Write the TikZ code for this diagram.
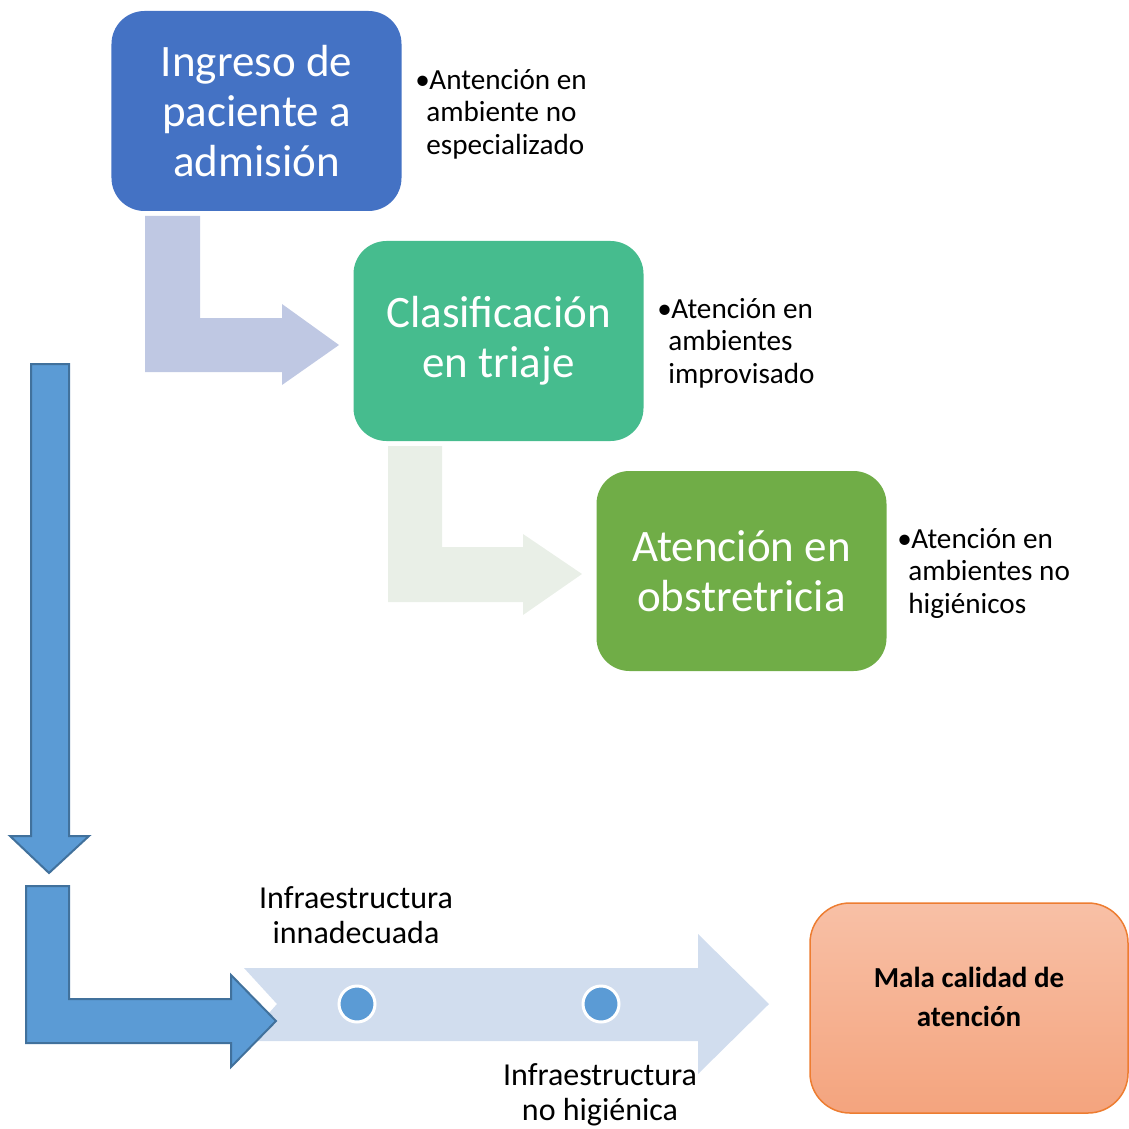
\documentclass[tikz,border=0pt]{standalone}
\usepackage{fontspec}
\setmainfont{Carlito}
\usepackage{tikz}
\usetikzlibrary{calc}
\definecolor{Ingreso}{RGB}{68, 114, 196}
\definecolor{Triaje}{RGB}{70, 188, 142}
\definecolor{Obstetricia}{RGB}{112, 173, 71}
\definecolor{Flecha1}{RGB}{191, 200, 227}
\definecolor{Flecha2}{RGB}{233, 239, 231}
\definecolor{Azul}{RGB}{91, 155, 213}
\definecolor{AzulBorde}{RGB}{65, 113, 156}
\definecolor{Banda}{RGB}{209, 221, 238}
\definecolor{MalaTop}{RGB}{248, 192, 166}
\definecolor{MalaBot}{RGB}{244, 164, 126}
\definecolor{MalaBorde}{RGB}{237, 125, 49}

\newcommand{\vineta}{\makebox[2.8mm][l]{•}}
\newcommand{\sangria}{\hspace*{2.2mm}}

\tikzset{
  caja/.style={rounded corners=6.6mm, minimum width=58mm, minimum height=40mm,
    text=white, align=center, inner sep=0pt, font=\fontsize{25.6}{28.4}\selectfont},
  nota/.style={align=left, anchor=west, inner sep=0pt, font=\fontsize{16.6}{18.5}\selectfont},
  etiqueta/.style={align=center, inner sep=0pt, font=\fontsize{18.2}{19.9}\selectfont},
  punto/.style={circle, fill=Azul, draw=white, line width=0.6mm, minimum size=7.2mm, inner sep=0pt},
}

\begin{document}
\begin{tikzpicture}[x=0.2mm, y=-0.2mm]
    %%Background
    \useasboundingbox (0,0) rectangle (1129,1129);

    %% Bent arrows between the steps
    \draw[draw=none, fill=Flecha1] (145,216) to (200,216) to (200,318) to (282,318)
    to (282,304) to (339,345) to (282,385) to (282,372) to (145,372) -- cycle;
    \draw[draw=none, fill=Flecha2] (388,446) to (442,446) to (442,547) to (523,547)
    to (523,534) to (582,574) to (523,615) to (523,602) to (388,602) -- cycle;

    %% Steps
    \node[caja, fill=Ingreso] (ingreso) at (256.5,111) {Ingreso de\\paciente a\\admisión};
    \node[caja, fill=Triaje] (triaje) at (498.5,341) {Clasificación\\en triaje};
    \node[caja, fill=Obstetricia] (obstetricia) at (741.5,571) {Atención en\\obstretricia};

    %% Notes
    \node[nota] (nota1) at (415,114) {\vineta Antención en\\\sangria ambiente no\\\sangria especializado};
    \node[nota] (nota2) at (657,343) {\vineta Atención en\\\sangria ambientes\\\sangria improvisado};
    \node[nota] (nota3) at (897,573) {\vineta Atención en\\\sangria ambientes no\\\sangria higiénicos};

    %% Long down arrow
    \draw[fill=Azul, draw=AzulBorde, line width=0.4mm] (31,364) to (69,364) to (69,836)
    to (89,836) to (49,873) to (10,836) to (31,836) -- cycle;

    %% Band
    \draw[draw=none, fill=Banda] (244,968) to (698,968) to (698,934) to (769,1004)
    to (698,1074) to (698,1041) to (244,1041) to (277,1004) -- cycle;
    %L arrow
    \draw[fill=Azul, draw=AzulBorde, line width=0.4mm] (26,886) to (69,886) to (69,999)
    to (231,999) to (231,975) to (276,1021) to (231,1067) to (231,1043) to (26,1043) -- cycle;

    \node[punto] (punto1) at (357,1004) {};
    \node[punto] (punto2) at (601,1004) {};
    \node[etiqueta] (infra1) at (356,915) {Infraestructura\\innadecuada};
    \node[etiqueta] (infra2) at (600,1095) {Infraestructura\\no higiénica};

    %% Result
    \node[rounded corners=8mm, minimum width=63.6mm, minimum height=42mm,
      top color=MalaTop, bottom color=MalaBot, draw=MalaBorde, line width=0.3mm]
      (mala) at (969,1008) {};
    \node[align=center, inner sep=0pt, font=\bfseries\fontsize{16.5}{22.2}\selectfont]
      (malatxt) at (969,997) {Mala calidad de\\atención};

\end{tikzpicture}
\end{document}
